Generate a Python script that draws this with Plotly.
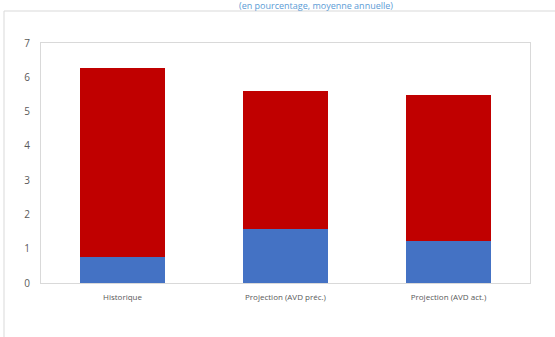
import plotly.graph_objects as go

categories = ["Historique", "Projection (AVD préc.)", "Projection (AVD act.)"]
blue_values = [0.76, 1.57, 1.22]
red_values = [5.52, 4.04, 4.25]
y_ticks = [0, 1, 2, 3, 4, 5, 6, 7]
title_text = "(en pourcentage, moyenne annuelle)"

W, H = 555, 337
L, T = 41, 43
R = W - 530
B = H - 283
pw, ph = W - L - R, H - T - B

def px_x(x):
    return (x - L) / pw

def px_y(y):
    return 1 - (y - T) / ph

fig = go.Figure()
fig.add_trace(go.Bar(x=categories, y=blue_values, marker_color="#4472C4",
                     marker_line_width=0, showlegend=False))
fig.add_trace(go.Bar(x=categories, y=red_values, marker_color="#C00000",
                     marker_line_width=0, showlegend=False))

fig.update_layout(
    width=W, height=H,
    barmode="stack", bargap=0.48,
    margin=dict(l=L, r=R, t=T, b=B),
    paper_bgcolor="white", plot_bgcolor="white",
    font=dict(family="Open Sans, Noto Sans, sans-serif", color="#595959"),
    xaxis=dict(showgrid=False, showline=True, linecolor="#D9D9D9", mirror=True,
               ticks="", tickfont=dict(size=8, color="#595959"),
               ticklabelstandoff=6),
    yaxis=dict(range=[0, 7], tickvals=y_ticks, showgrid=False, showline=True,
               linecolor="#D9D9D9", mirror=True, ticks="", zeroline=False,
               tickfont=dict(size=10, color="#595959"), ticklabelstandoff=8),
    shapes=[
        dict(type="line", xref="paper", yref="paper", x0=px_x(4), x1=px_x(556),
             y0=px_y(11), y1=px_y(11), line=dict(color="#D9D9D9", width=1)),
        dict(type="line", xref="paper", yref="paper", x0=px_x(4), x1=px_x(4),
             y0=px_y(11), y1=px_y(337), line=dict(color="#D9D9D9", width=1)),
    ],
    annotations=[
        dict(text=title_text, xref="paper", yref="paper", x=px_x(316), y=px_y(5),
             xanchor="center", yanchor="middle", showarrow=False,
             font=dict(size=9, color="#5B9BD5")),
    ],
)

fig.write_html("out.html", config={"displayModeBar": False},
               post_script="document.body.style.margin='0';document.body.style.overflow='hidden';")
